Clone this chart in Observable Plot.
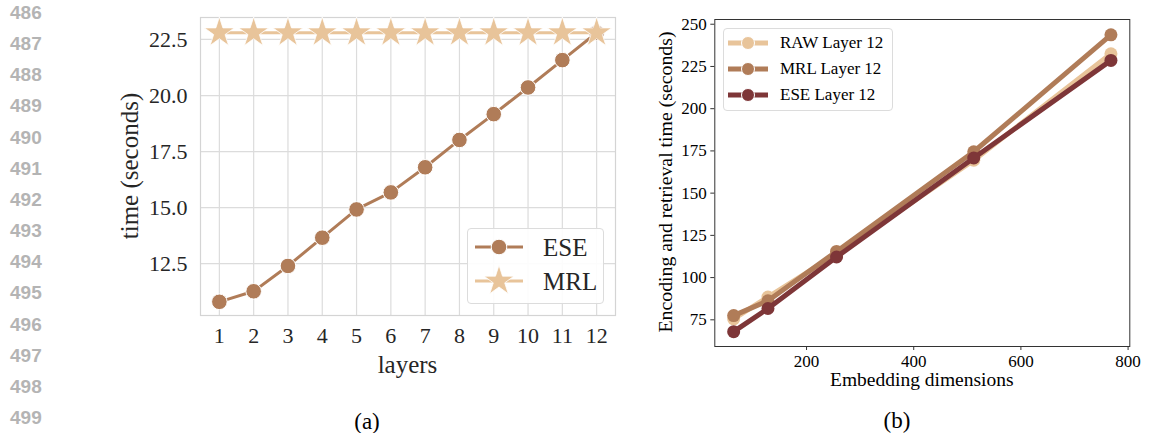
<!DOCTYPE html>
<html>
<head>
<meta charset="utf-8">
<script src="https://cdn.jsdelivr.net/npm/d3@7"></script>
<script src="https://cdn.jsdelivr.net/npm/@observablehq/plot@0.6"></script>
<style>
  html, body { margin: 0; padding: 0; background: #fff; }
  #page { position: relative; width: 1163px; height: 433px; background: #fff; overflow: hidden; }
  .abs { position: absolute; white-space: nowrap; line-height: 1; }
  .lineno { font-family: "Liberation Sans", Arial, sans-serif; font-weight: bold; font-size: 19px; color: #b4b4b4; left: 10px; transform: translateY(-50%); }
  .serif { font-family: "Liberation Serif", "Times New Roman", serif; }
  svg text { font-family: "Liberation Serif", "Times New Roman", serif; }
  .legend { position: absolute; border: 1px solid #dcdcdc; border-radius: 4px; background: rgba(255,255,255,0.9); box-sizing: border-box; }
  .legrow { position: absolute; left: 0; display: flex; align-items: center; transform: translateY(-50%); }
</style>
</head>
<body>
<div id="page"></div>
<script>
// ---------------- data ----------------
const lineNumbers = [486, 487, 488, 489, 490, 491, 492, 493, 494, 495, 496, 497, 498, 499];

// panel (a)
const layers = [1, 2, 3, 4, 5, 6, 7, 8, 9, 10, 11, 12];
const eseTime = [10.8, 11.27, 12.4, 13.66, 14.92, 15.68, 16.8, 18.02, 19.17, 20.36, 21.58, 22.8];
const mrlTime = [22.8, 22.8, 22.8, 22.8, 22.8, 22.8, 22.8, 22.8, 22.8, 22.8, 22.8, 22.8];
const aYTicks = [12.5, 15.0, 17.5, 20.0, 22.5];

// panel (b)
const dims = [64, 128, 256, 512, 768];
const rawL12 = [75.5, 88.5, 114, 169.5, 232.5];
const mrlL12 = [77.5, 86.3, 115.5, 174.5, 243.7];
const eseL12 = [68, 81.7, 112.2, 170.8, 228.6];
const bXTicks = [200, 400, 600, 800];
const bYTicks = [75, 100, 125, 150, 175, 200, 225, 250];

const cLight = "#e8c49a";
const cMid = "#b07c58";
const cDark = "#7e3638";
const SERIF = "'Liberation Serif', 'Times New Roman', serif";

const page = document.getElementById("page");

// line numbers
lineNumbers.forEach((n, i) => {
  const d = document.createElement("div");
  d.className = "abs lineno";
  d.style.top = (12 + i * 31.15) + "px";
  d.textContent = n;
  page.appendChild(d);
});

function addText(txt, x, y, size, opts = {}) {
  const d = document.createElement("div");
  d.className = "abs serif";
  d.style.left = x + "px";
  d.style.top = y + "px";
  d.style.fontSize = size + "px";
  d.style.color = opts.color || "#000";
  d.style.transform = "translate(-50%,-50%)" + (opts.rotate ? " rotate(-90deg)" : "");
  d.textContent = txt;
  page.appendChild(d);
  return d;
}

// ---------------- panel (a) ----------------
const tableA = layers.map((l, i) => ({layer: l, ese: eseTime[i], mrl: mrlTime[i]}));
const plotA = Plot.plot({
  width: 520, height: 390,
  marginLeft: 100, marginRight: 5, marginTop: 17, marginBottom: 75,
  style: {fontFamily: SERIF, fontSize: "22px", color: "#262626", background: "transparent", overflow: "visible"},
  x: {domain: [0.45, 12.55]},
  y: {domain: [10.19, 23.48]},
  marks: [
    Plot.gridX(layers, {stroke: "#dcdcdc", strokeOpacity: 1, strokeWidth: 1.2}),
    Plot.gridY(aYTicks, {stroke: "#dcdcdc", strokeOpacity: 1, strokeWidth: 1.2}),
    Plot.frame({stroke: "#d4d4d4", strokeWidth: 1.2}),
    Plot.axisX(layers, {tickSize: 0, tickPadding: 12, label: null, fontSize: 22}),
    Plot.axisY(aYTicks, {tickSize: 0, tickPadding: 13, label: null, fontSize: 22, tickFormat: d3.format(".1f")}),
    Plot.line(tableA, {x: "layer", y: "ese", stroke: cMid, strokeWidth: 3}),
    Plot.dot(tableA, {x: "layer", y: "ese", r: 7.8, fill: cMid, stroke: "#fff", strokeWidth: 1}),
    Plot.line(tableA, {x: "layer", y: "mrl", stroke: cLight, strokeWidth: 3}),
    Plot.dot(tableA, {x: "layer", y: "mrl", symbol: "star", r: 9.4, fill: cLight, stroke: "#fff", strokeWidth: 0.8})
  ]
});
plotA.style.position = "absolute";
plotA.style.left = "100px";
plotA.style.top = "0px";
page.appendChild(plotA);

addText("time (seconds)", 129, 166, 25, {rotate: true, color: "#262626"});
addText("layers", 407.5, 364, 25, {color: "#262626"});
addText("(a)", 367, 421, 23);

// legend helpers
function swatch(w, h, color, lw, sym, r) {
  const svg = d3.create("svg").attr("width", w).attr("height", h).style("display", "block").style("overflow", "visible");
  svg.append("line").attr("x1", 0).attr("x2", w).attr("y1", h / 2).attr("y2", h / 2)
    .attr("stroke", color).attr("stroke-width", lw);
  if (sym === "star") {
    svg.append("path").attr("d", d3.symbol(d3.symbolStar, Math.PI * r * r)())
      .attr("transform", `translate(${w / 2},${h / 2})`).attr("fill", color).attr("stroke", "#fff").attr("stroke-width", 0.8);
  } else {
    svg.append("circle").attr("cx", w / 2).attr("cy", h / 2).attr("r", r)
      .attr("fill", color).attr("stroke", "#fff").attr("stroke-width", 1);
  }
  return svg.node();
}
function legend(box, items) {
  const lg = document.createElement("div");
  lg.className = "legend";
  Object.assign(lg.style, {left: box.x + "px", top: box.y + "px", width: box.w + "px", height: box.h + "px"});
  items.forEach(it => {
    const row = document.createElement("div");
    row.className = "legrow";
    row.style.top = it.cy + "px";
    row.style.left = it.sx + "px";
    row.appendChild(swatch(it.sw, 30, it.color, it.lw, it.sym, it.r));
    const t = document.createElement("span");
    t.className = "serif";
    t.style.fontFamily = SERIF;
    t.style.fontSize = it.fs + "px";
    t.style.color = it.tc;
    t.style.marginLeft = it.gap + "px";
    t.style.lineHeight = "1";
    t.textContent = it.label;
    row.appendChild(t);
    lg.appendChild(row);
  });
  page.appendChild(lg);
}
legend({x: 467, y: 228, w: 137, h: 76}, [
  {label: "ESE", color: cMid, lw: 3, sym: "circle", r: 7.8, cy: 18, sx: 7, sw: 48, gap: 20, fs: 25, tc: "#262626"},
  {label: "MRL", color: cLight, lw: 3, sym: "star", r: 9.4, cy: 52, sx: 7, sw: 48, gap: 20, fs: 25, tc: "#262626"}
]);

// ---------------- panel (b) ----------------
const tableB = [];
dims.forEach((d, i) => tableB.push({dim: d, t: rawL12[i], s: "RAW Layer 12"}));
dims.forEach((d, i) => tableB.push({dim: d, t: mrlL12[i], s: "MRL Layer 12"}));
dims.forEach((d, i) => tableB.push({dim: d, t: eseL12[i], s: "ESE Layer 12"}));
const seriesNames = ["RAW Layer 12", "MRL Layer 12", "ESE Layer 12"];
const seriesColors = [cLight, cMid, cDark];

const plotB = Plot.plot({
  width: 543, height: 390,
  marginLeft: 94.3, marginRight: 33.7, marginTop: 19, marginBottom: 44,
  style: {fontFamily: SERIF, fontSize: "17px", color: "#000", background: "transparent", overflow: "visible"},
  x: {domain: [28.8, 803.2]},
  y: {domain: [59.2, 252.8]},
  marks: [
    Plot.frame({stroke: "#333", strokeWidth: 1}),
    Plot.axisX(bXTicks, {tickSize: 4, tickPadding: 4, label: null, fontSize: 17, stroke: "#333"}),
    Plot.axisY(bYTicks, {tickSize: 4, tickPadding: 4, label: null, fontSize: 17, stroke: "#333"}),
    ...seriesNames.map((s, i) => [
      Plot.line(tableB.filter(d => d.s === s), {x: "dim", y: "t", stroke: seriesColors[i], strokeWidth: 5}),
      Plot.dot(tableB.filter(d => d.s === s), {x: "dim", y: "t", r: 6.5, fill: seriesColors[i]})
    ]).flat()
  ]
});
plotB.style.position = "absolute";
plotB.style.left = "620px";
plotB.style.top = "0px";
page.appendChild(plotB);

addText("Encoding and retrieval time (seconds)", 666, 182, 19.8, {rotate: true});
addText("Embedding dimensions", 921.8, 380, 19.5);
addText("(b)", 897, 420, 23);

legend({x: 723, y: 28, w: 170, h: 83}, seriesNames.map((s, i) => ({
  label: s, color: seriesColors[i], lw: 5, sym: "circle", r: 6.5, cy: 13.5 + i * 26.2, sx: 4, sw: 40, gap: 12, fs: 17, tc: "#000"
})));
</script>
</body>
</html>
